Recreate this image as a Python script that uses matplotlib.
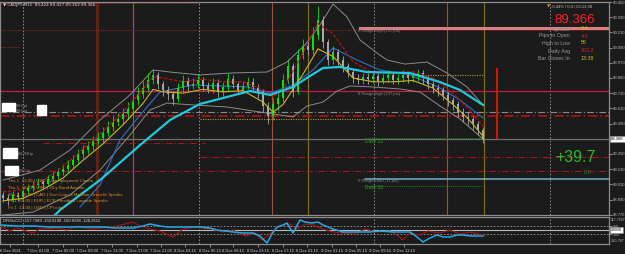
import matplotlib
matplotlib.use('Agg')
import matplotlib.pyplot as plt
from matplotlib.patches import Rectangle

BG = '#1b1b1b'
plt.rcParams['font.family'] = ['Liberation Sans', 'DejaVu Sans']

# ---- CADJPY M15 candles (grouped) ----
opens = [88.926, 88.902, 88.886, 88.926, 88.910, 88.957, 88.981, 89.004, 89.028, 89.012,
         89.052, 89.076, 89.107, 89.131, 89.163, 89.202, 89.249, 89.281, 89.313, 89.352,
         89.376, 89.415, 89.463, 89.502, 89.526, 89.565, 89.605, 89.676, 89.723, 89.771,
         89.834, 89.874, 89.802, 89.755, 89.723, 89.684, 89.771, 89.826, 89.787, 89.802,
         89.834, 89.787, 89.763, 89.810, 89.739, 89.779, 89.842, 89.802, 89.755, 89.787,
         89.818, 89.779, 89.739, 89.629, 89.550, 89.644, 89.692, 89.834, 89.945, 89.739,
         90.032, 90.103, 90.071, 90.190, 90.308, 90.134, 89.992, 90.055, 89.992, 89.945,
         89.897, 89.850, 89.834, 89.858, 89.842, 89.866, 89.826, 89.850, 89.874, 89.834,
         89.850, 89.874, 89.850, 89.866, 89.889, 89.850, 89.802, 89.771, 89.755, 89.716,
         89.676, 89.644, 89.581, 89.542, 89.526, 89.486, 89.439]
closes = [88.902, 88.886, 88.926, 88.910, 88.957, 88.981, 89.004, 89.028, 89.012, 89.052,
          89.076, 89.107, 89.131, 89.163, 89.202, 89.249, 89.281, 89.313, 89.352, 89.376,
          89.415, 89.463, 89.502, 89.526, 89.565, 89.605, 89.676, 89.723, 89.771, 89.834,
          89.874, 89.802, 89.755, 89.723, 89.684, 89.771, 89.826, 89.787, 89.802, 89.834,
          89.787, 89.763, 89.810, 89.739, 89.779, 89.842, 89.802, 89.755, 89.787, 89.818,
          89.779, 89.739, 89.629, 89.550, 89.644, 89.692, 89.834, 89.945, 89.739, 90.032,
          90.103, 90.071, 90.190, 90.308, 90.134, 89.992, 90.055, 89.992, 89.945, 89.897,
          89.850, 89.834, 89.858, 89.842, 89.866, 89.826, 89.850, 89.874, 89.834, 89.850,
          89.874, 89.850, 89.866, 89.889, 89.850, 89.802, 89.771, 89.755, 89.716, 89.676,
          89.644, 89.581, 89.542, 89.526, 89.486, 89.439, 89.366]
highs = [88.950, 88.930, 88.960, 88.950, 88.990, 89.010, 89.040, 89.060, 89.050, 89.085,
         89.110, 89.140, 89.170, 89.200, 89.240, 89.290, 89.320, 89.355, 89.390, 89.420,
         89.460, 89.510, 89.550, 89.570, 89.610, 89.660, 89.720, 89.780, 89.830, 89.890,
         89.920, 89.900, 89.830, 89.790, 89.750, 89.810, 89.870, 89.860, 89.850, 89.880,
         89.860, 89.820, 89.850, 89.840, 89.820, 89.890, 89.870, 89.830, 89.830, 89.860,
         89.850, 89.800, 89.760, 89.660, 89.690, 89.740, 89.880, 90.000, 89.970, 90.080,
         90.160, 90.150, 90.250, 90.420, 90.340, 90.160, 90.100, 90.080, 90.020, 89.970,
         89.920, 89.880, 89.890, 89.890, 89.900, 89.890, 89.880, 89.910, 89.900, 89.880,
         89.910, 89.900, 89.900, 89.920, 89.910, 89.870, 89.830, 89.800, 89.780, 89.740,
         89.700, 89.670, 89.610, 89.580, 89.550, 89.510, 89.460]
lows = [88.870, 88.850, 88.870, 88.880, 88.895, 88.935, 88.960, 88.985, 88.980, 88.995,
        89.030, 89.050, 89.085, 89.110, 89.140, 89.180, 89.220, 89.250, 89.280, 89.320,
        89.340, 89.390, 89.430, 89.470, 89.490, 89.530, 89.580, 89.640, 89.690, 89.740,
        89.800, 89.760, 89.710, 89.680, 89.640, 89.660, 89.740, 89.750, 89.760, 89.770,
        89.750, 89.730, 89.735, 89.700, 89.710, 89.750, 89.770, 89.720, 89.730, 89.760,
        89.740, 89.690, 89.580, 89.490, 89.520, 89.600, 89.660, 89.800, 89.700, 89.720,
        90.000, 90.030, 90.040, 90.150, 90.090, 89.950, 89.960, 89.950, 89.900, 89.860,
        89.810, 89.800, 89.800, 89.800, 89.810, 89.790, 89.800, 89.820, 89.800, 89.800,
        89.820, 89.810, 89.820, 89.830, 89.800, 89.760, 89.730, 89.710, 89.680, 89.630,
        89.600, 89.540, 89.500, 89.480, 89.440, 89.400, 89.340]

# ---- overlays ----
fast_idx = [0, 4, 8, 12, 16, 20, 24, 28, 30, 32, 36, 40, 44, 48, 52, 54, 56, 60, 63, 66,
            70, 74, 78, 82, 86, 90, 93, 96]
red_ma = [88.95, 88.97, 89.04, 89.15, 89.29, 89.43, 89.58, 89.76, 89.86, 89.85, 89.82, 89.84,
          89.82, 89.82, 89.76, 89.70, 89.76, 90.05, 90.28, 90.20, 89.98, 89.89, 89.89, 89.90,
          89.85, 89.73, 89.61, 89.47]
yellow_ma = [88.88, 88.90, 88.97, 89.06, 89.20, 89.33, 89.48, 89.65, 89.76, 89.74, 89.73,
             89.76, 89.74, 89.75, 89.66, 89.58, 89.64, 89.88, 90.08, 90.02, 89.85, 89.82,
             89.82, 89.83, 89.77, 89.64, 89.53, 89.39]
cyan_idx = [10.4, 11.4, 19.4, 27.4, 33.4, 39.4, 44.8, 49.4, 53.4, 58.0, 61.4, 64.0, 67.4,
            72.8, 81.4, 87.4, 91.4, 96.0]
cyan_ma = [88.768, 88.807, 89.044, 89.320, 89.518, 89.645, 89.700, 89.747, 89.716, 89.779,
           89.866, 89.929, 89.937, 89.897, 89.889, 89.818, 89.755, 89.637]
blue_idx = [15.4, 19.4, 23.4, 27.4, 31.4, 38.0, 48.8, 53.4, 58.0, 62.0, 66.0, 70.8, 75.4,
            81.4, 87.4, 91.4, 96.0]
blue_ma = [88.831, 89.004, 89.360, 89.557, 89.739, 89.795, 89.779, 89.731, 89.795, 89.913,
           90.087, 89.992, 89.913, 89.874, 89.771, 89.676, 89.534]
bb_up_idx = [0.0, 7.4, 13.4, 19.4, 25.4, 30.0, 33.4, 39.4, 45.4, 52.8, 56.8, 60.4, 63.4,
             66.0, 68.8, 71.4, 74.8, 76.8, 80.4, 84.8, 88.8, 92.8, 96.0]
bb_up = [89.044, 89.123, 89.281, 89.518, 89.716, 89.913, 89.897, 89.874, 89.889, 89.897,
         89.976, 90.111, 90.269, 90.434, 90.332, 90.150, 90.047, 89.992, 89.960, 89.976,
         89.889, 89.779, 89.637]
bb_lo_idx = [0.0, 6.0, 13.4, 19.4, 25.4, 29.4, 32.8, 38.0, 44.8, 52.8, 58.0, 60.8, 64.0,
             66.8, 69.4, 74.0, 79.4, 83.4, 87.4, 91.4, 96.0]
bb_lo = [88.768, 88.791, 88.926, 89.123, 89.400, 89.597, 89.652, 89.637, 89.621, 89.573,
         89.542, 89.629, 89.660, 89.747, 89.787, 89.779, 89.763, 89.739, 89.629, 89.526,
         89.368]

# ---- DRSIxCCI panel ----
cci_blue_idx = [-0.6, 2.8, 6.0, 9.4, 12.8, 16.0, 19.4, 22.8, 26.0, 28.0, 29.4, 31.4, 32.8,
                36.0, 39.4, 41.4, 42.8, 44.4, 46.0, 48.0, 50.0, 51.4, 52.8, 53.8, 54.8, 56.0,
                56.8, 58.0, 59.4, 60.4, 61.8, 63.0, 64.0, 66.0, 68.0, 70.4, 73.4, 75.4, 78.0,
                81.4, 82.8, 84.0, 85.4, 86.8, 88.0, 89.4, 90.8, 92.0, 93.4, 96.0]
cci_blue = [125, 100, 100, 75, 75, 75, 75, 50, 50, 100, 150, 100, 75, 75, 75, 50, 0, -25,
            -50, -75, -75, -150, -325, -100, 75, 125, 175, -75, 250, 200, 175, 200, 125, 25,
            -50, -50, -50, -25, -50, -50, -175, -300, -200, -125, -175, -175, -125, -125,
            -150, -150]
cci_red_idx = [-0.6, 1.4, 2.8, 6.0, 7.4, 10.4, 12.8, 15.0, 17.4, 19.4, 22.8, 26.0, 27.4,
               29.4, 31.4, 34.0, 36.0, 38.4, 41.4, 44.0, 46.0, 48.4, 50.4, 51.8, 53.4, 55.4,
               57.4, 58.8, 60.4, 62.0, 64.0, 66.0, 68.0, 70.4, 72.4, 74.8, 77.4, 79.4, 79.8,
               81.4, 83.4, 85.0, 87.4, 89.4, 91.4, 93.4, 96.0]
cci_red = [100, -25, 50, -75, 25, 50, 0, 100, 25, 50, 100, 200, 100, 25, -25, -175, 25, 75,
           25, -50, 0, -150, -75, -250, -100, 100, 150, 25, 150, 125, 25, -50, -75, -100, 25,
           -50, -25, -175, -250, -75, -125, -25, -75, 0, -100, -50, -125]
cci_values = '-157.7389 -150.8198 -150.8198 -128.2651'

# ---- axis labels ----
date_pos = [1.4, 7.0, 12.0, 16.8, 21.8, 26.8, 31.6, 36.4, 41.4, 46.0, 51.0, 56.0, 60.8,
            65.8, 70.6, 75.4, 80.2]
date_labels = ['6 Dec 2021', '7 Dec 01:00', '7 Dec 05:00', '7 Dec 09:00', '7 Dec 13:00',
               '7 Dec 17:00', '7 Dec 21:00', '8 Dec 01:15', '8 Dec 05:15', '8 Dec 09:15',
               '8 Dec 13:15', '8 Dec 17:15', '8 Dec 21:15', '9 Dec 01:15', '9 Dec 05:15',
               '9 Dec 09:15', '9 Dec 13:15']
price_ticks = [90.450, 90.330, 90.210, 90.090, 89.970, 89.850, 89.730, 89.610, 89.490,
               89.250, 89.130, 89.010, 88.890, 88.770]
last_price = 89.366

day_seps = [4.0, 39.2, 74.2, 109.4]
session_open = [18.8, 53.8, 88.8]
session_close = [26.0, 61.0, 96.2]

events = ['Thu 1  13:30 | USD | Unemployment Claims',
          'Thu 1  18:01 | USD | 30-y Bond Auction',
          'Thu 1  20:45 | CAD | Gov Council Member Gravelle Speaks',
          'Fri 1  09:00 | EUR | ECB President Lagarde Speaks',
          'Fri 1  13:30 | USD | CPI m/m']

info_names = ['Spread', 'Pips to Open', 'High to Low', 'Daily Avg', 'Bar Closes In']
info_vals = ['0.4', '-43', '56', '103.2', '13:38']
info_cols = ['#d4c400', '#e02020', '#d4c400', '#e02020', '#d4c400']


def fx(px):
    return px / 625.0


def fy(py):
    return 1 - py / 254.0


fig = plt.figure(figsize=(6.25, 2.54), dpi=100, facecolor=BG)
ax = fig.add_axes([0, 39 / 254, 609 / 625, 213 / 254])
ci = fig.add_axes([0, 10 / 254, 609 / 625, 27 / 254], sharex=ax)
for a in (ax, ci):
    a.set_facecolor(BG)
    for s in a.spines.values():
        s.set_color('#8c8c8c')
        s.set_linewidth(0.9)
ax.set_xlim(-0.6, 121.2)
ax.set_ylim(88.768, 90.450)
ci.set_ylim(-350, 325)

# vertical separators
for x in day_seps:
    ax.axvline(x, color='#9a9a9a', lw=0.6, ls=(0, (2, 2)), zorder=1)
    ci.axvline(x, color='#9a9a9a', lw=0.6, ls=(0, (2, 2)), zorder=1)
ax.axvline(session_open[0], color='#5e2412', lw=2.2, zorder=1)
for x in session_open[1:]:
    ax.axvline(x, color='#a0502a', lw=0.8, zorder=1)
for x in session_close:
    ax.axvline(x, color='#8c6c1c', lw=0.8, zorder=1)

# horizontal levels
ax.axhline(90.445, 0, 200 / 609, color='#b02020', lw=0.7, ls=(0, (1.5, 1.5)))
ax.axhline(90.229, 0, 1, color='#a02020', lw=0.6, ls=(0, (1.5, 1.5)))
ax.axhline(90.245, 360 / 609, 1, color='#d88080', lw=2.2)
ax.axhline(90.095, 0, 20 / 609, color='#a02020', lw=0.6, ls=(0, (1.5, 1.5)))
ax.axhline(89.747, 0, 1, color='#c0203c', lw=0.9)
ax.axhline(89.581, 0, 1, color='#8a8a8a', lw=0.8, ls=(0, (6, 2, 1, 2)))
ax.axhline(89.550, 0, 1, color='#c01414', lw=1.1, ls=(0, (6, 2, 1, 2)))
ax.axhline(89.526, 200 / 609, 370 / 609, color='#b0a020', lw=0.8, ls=(0, (1, 1.2)))
ax.axhline(89.874, 413 / 609, 483 / 609, color='#b0a020', lw=0.8, ls=(0, (1, 1.2)))
ax.axhline(last_price, 0, 1, color='#6e6e6e', lw=0.9)
ax.axhline(89.376, 365 / 609, 483 / 609, color='#1e8a1e', lw=0.7, ls=(0, (1, 1.2)))
ax.axhline(89.337, 43 / 609, 205 / 609, color='#a01818', lw=0.8, ls=(0, (6, 2, 1, 2)))
ax.axhline(89.226, 200 / 609, 1, color='#a01818', lw=0.8, ls=(0, (6, 2, 1, 2)))
ax.axhline(89.115, 0, 1, color='#a01818', lw=0.8, ls=(0, (6, 2, 1, 2)))
ax.axhline(89.052, 365 / 609, 1, color='#70aed0', lw=1.1)
ax.axhline(88.997, 365 / 609, 483 / 609, color='#1e8a1e', lw=0.7, ls=(0, (1, 1.2)))

# bands and averages
ax.plot(bb_up_idx, bb_up, color='#8a8a8a', lw=0.7, zorder=2)
ax.plot(bb_lo_idx, bb_lo, color='#8a8a8a', lw=0.7, zorder=2)
ax.plot(blue_idx, blue_ma, color='#2a70c8', lw=0.8, zorder=3)

# candles
for i in range(len(closes)):
    col = '#00e400' if closes[i] >= opens[i] else '#a8a8a8'
    ax.vlines(i, lows[i], highs[i], color=col, lw=0.6, zorder=4)
    lo, hi = min(opens[i], closes[i]), max(opens[i], closes[i])
    ax.bar(i, max(hi - lo, 0.004), bottom=lo, width=0.55, color=col, lw=0, zorder=4)

ax.plot(fast_idx, red_ma, color='#c81010', lw=0.8, ls=(0, (3, 1.5)), zorder=5)
ax.plot(fast_idx, yellow_ma, color='#c8b420', lw=0.8, zorder=5)
ax.plot(cyan_idx, cyan_ma, color='#20c8dc', lw=1.6, zorder=6)

# bar timer
ax.vlines(98.8, last_price, 89.929, color='#e01010', lw=1.4, zorder=6)

# price axis
ax.yaxis.tick_right()
ax.set_yticks(price_ticks)
ax.set_yticklabels(['%.3f' % p for p in price_ticks])
ax.tick_params(axis='y', colors='#bdbdbd', labelsize=3, length=2, width=0.5, pad=1)
ax.tick_params(axis='x', bottom=False, labelbottom=False)

# indicator panel
ci.axhline(100, color='#9a9a9a', lw=0.6, ls=(0, (2, 2)))
ci.axhline(-100, color='#9a9a9a', lw=0.6, ls=(0, (2, 2)))
ci.axhline(0, color='#b8b8b8', lw=0.8)
ci.plot(cci_red_idx, cci_red, color='#a81414', lw=0.8, zorder=3)
ci.plot(cci_blue_idx, cci_blue, color='#20a8e8', lw=1.1, zorder=4)
ci.yaxis.tick_right()
ci.set_yticks([100, -100])
ci.set_yticklabels(['100', '-100'])
ci.tick_params(axis='y', colors='#bdbdbd', labelsize=2.6, length=2, width=0.5, pad=1)
ci.set_xticks(date_pos)
ci.set_xticklabels(date_labels)
ci.tick_params(axis='x', colors='#bdbdbd', labelsize=3, length=2, width=0.5, pad=1.5)
for lab in ci.get_xticklabels():
    lab.set_color('#d0d0d0')

# texts
fig.text(fx(3), fy(5), '\u25bc CADJPY,M15  89.424 89.427 89.362 89.366', color='#dcdcdc',
         fontsize=3, va='center', family=['DejaVu Sans'])
fig.text(fx(547), fy(7), '\u25bc', color='#e0a030', fontsize=3, va='center', family=['DejaVu Sans'])
fig.text(fx(551), fy(7), '-0.44% / 0.4 / 00:13:38', color='#c0c0c0', fontsize=3, va='center')
fig.text(fx(575), fy(20), '89.366', color='#ff2020', fontsize=9.5, ha='center', va='center')
for k, (n, v, c) in enumerate(zip(info_names, info_vals, info_cols)):
    yy = [29, 36, 43, 51, 58][k]
    fig.text(fx(570), fy(yy), n, color='#9a9a9a', fontsize=3.8, ha='right', va='center')
    fig.text(fx(581), fy(yy), v, color=c, fontsize=3.8, ha='left', va='center')
fig.text(fx(575), fy(158), '+39.7', color='#22c022', fontsize=11.5, ha='center', va='center')
fig.text(fx(588), fy(173), '0.0', color='#1e8a1e', fontsize=4, ha='center', va='center')

fig.text(fx(358), fy(31), '0 Range High (137 pts)', color='#8a8a8a', fontsize=3, va='center')
fig.text(fx(358), fy(94), '8 Range High (137 pts)', color='#8a8a8a', fontsize=3, va='center')
fig.text(fx(365), fy(141), 'Daily S1', color='#22a022', fontsize=3.5, va='center')
fig.text(fx(358), fy(181), '0 Range Low (-31 pts)', color='#8a8a8a', fontsize=3, va='center')
fig.text(fx(365), fy(188), 'Daily S2', color='#22a022', fontsize=3.5, va='center')

for k, ev in enumerate(events):
    fig.text(fx(8), fy([181, 188, 195, 201, 208][k]), ev, color='#d89020', fontsize=3.2,
             va='center')

# little white price tags on the left
for (x0, y0, w, h) in [(2, 103, 13, 8), (37, 105, 9, 10), (3, 148, 14, 10), (5, 166, 13, 9)]:
    fig.patches.append(Rectangle((fx(x0), fy(y0 + h)), w / 625, h / 254, color='white',
                                 transform=fig.transFigure, zorder=10))
fig.text(fx(16), fy(106), '89.6 pt', color='#9a9a9a', fontsize=2.6, va='center')
fig.text(fx(16), fy(111), '89.5 pt', color='#9a9a9a', fontsize=2.6, va='center')
fig.text(fx(18), fy(154), '89.258 tp', color='#9a9a9a', fontsize=2.6, va='center')
fig.text(fx(19), fy(171), '89.1 tp', color='#9a9a9a', fontsize=2.6, va='center')

# value boxes on the right scale
fig.text(fx(611), fy(139), '89.366', color='black', fontsize=3, va='center',
         bbox=dict(boxstyle='square,pad=0.25', fc='white', ec='#8c8c8c', lw=0.4))
fig.text(fx(610.5), fy(220), '117.7507', color='#bdbdbd', fontsize=2.5, va='center')
fig.text(fx(611), fy(230), '0.0000', color='black', fontsize=2.6, va='center',
         bbox=dict(boxstyle='square,pad=0.2', fc='white', ec='#8c8c8c', lw=0.4))
fig.text(fx(610.5), fy(241), '-161.767', color='#bdbdbd', fontsize=2.5, va='center')
fig.text(fx(3), fy(221), 'DRSIxCCI ' + cci_values, color='#dcdcdc', fontsize=3, va='center')

fig.savefig('out.png', dpi=100, facecolor=BG)
